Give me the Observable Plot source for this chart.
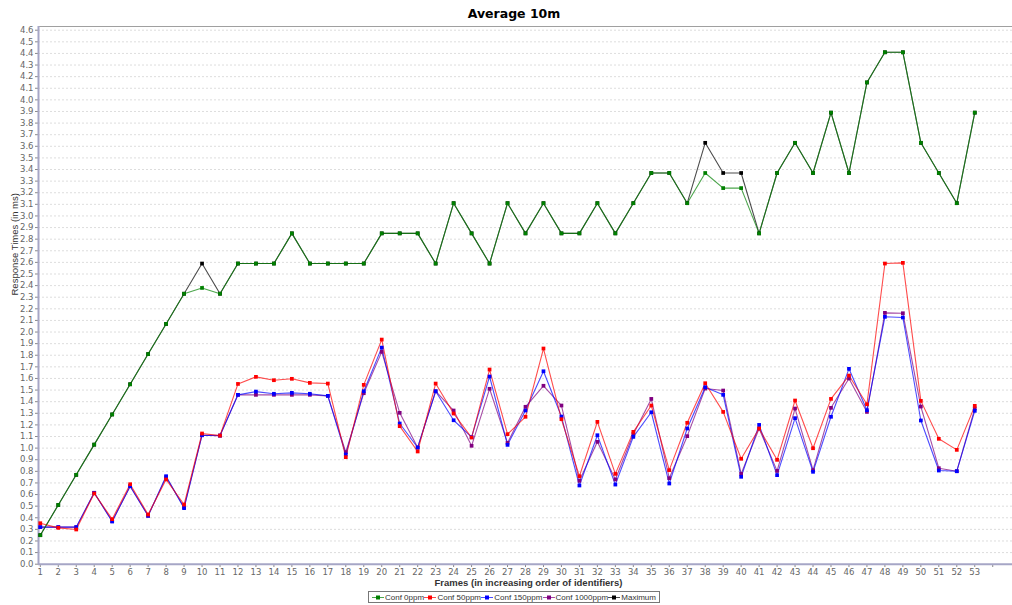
<!DOCTYPE html>
<html>
<head>
<meta charset="utf-8">
<script src="https://cdn.jsdelivr.net/npm/d3@7"></script>
<script src="https://cdn.jsdelivr.net/npm/@observablehq/plot@0.6"></script>
<style>
  html, body { margin: 0; padding: 0; background: #fff; }
  body { width: 1012px; height: 605px; position: relative; overflow: hidden; font-family: "DejaVu Sans", sans-serif; }
  #title { position: absolute; left: 0; top: 6px; width: 1028px; text-align: center; font-weight: bold; font-size: 12.5px; color: #000; }
  #chart { position: absolute; left: 0; top: 24px; }
  #legend { position: absolute; left: 368px; top: 591px; width: 292px; box-sizing: border-box; border: 1px solid #777; display: flex; align-items: center; justify-content: space-between; padding: 0 3px; height: 12px; font-family: "Liberation Sans", sans-serif; font-size: 8px; color: #333; }
  #legend .item { display: flex; align-items: center; gap: 1px; white-space: nowrap; }
</style>
</head>
<body>
<div id="title">Average 10m</div>
<div id="chart"></div>
<div id="legend"></div>
<script>
const frames = [1,2,3,4,5,6,7,8,9,10,11,12,13,14,15,16,17,18,19,20,21,22,23,24,25,26,27,28,29,30,31,32,33,34,35,36,37,38,39,40,41,42,43,44,45,46,47,48,49,50,51,52,53];
const xTicks = [1,2,3,4,5,6,7,8,9,10,11,12,13,14,15,16,17,18,19,20,21,22,23,24,25,26,27,28,29,30,31,32,33,34,35,36,37,38,39,40,41,42,43,44,45,46,47,48,49,50,51,52,53,54];
const yTicks = [0,0.1,0.2,0.3,0.4,0.5,0.6,0.7,0.8,0.9,1.0,1.1,1.2,1.3,1.4,1.5,1.6,1.7,1.8,1.9,2.0,2.1,2.2,2.3,2.4,2.5,2.6,2.7,2.8,2.9,3.0,3.1,3.2,3.3,3.4,3.5,3.6,3.7,3.8,3.9,4.0,4.1,4.2,4.3,4.4,4.5,4.6];

const seriesNames = ["Conf 0ppm", "Conf 50ppm", "Conf 150ppm", "Conf 1000ppm", "Maximum"];
const seriesColors = ["#008000", "#ff0000", "#0000ff", "#800080", "#000000"];

const conf0 = [0.25,0.51,0.77,1.03,1.29,1.55,1.81,2.07,2.33,2.38,2.33,2.59,2.59,2.59,2.85,2.59,2.59,2.59,2.59,2.85,2.85,2.85,2.59,3.11,2.85,2.59,3.11,2.85,3.11,2.85,2.85,3.11,2.85,3.11,3.37,3.37,3.11,3.37,3.24,3.24,2.85,3.37,3.63,3.37,3.89,3.37,4.15,4.41,4.41,3.63,3.37,3.11,3.89];
const conf50 = [0.353,0.313,0.299,0.61,0.388,0.689,0.428,0.73,0.514,1.126,1.108,1.553,1.614,1.585,1.597,1.562,1.556,0.922,1.545,1.935,1.189,0.971,1.556,1.298,1.091,1.677,1.12,1.27,1.858,1.249,0.758,1.226,0.778,1.14,1.367,0.81,1.218,1.559,1.312,0.908,1.169,0.899,1.41,0.999,1.424,1.625,1.378,2.59,2.596,1.407,1.08,0.985,1.364];
const conf150 = [0.319,0.319,0.319,0.615,0.368,0.672,0.417,0.758,0.483,1.111,1.108,1.459,1.487,1.468,1.476,1.468,1.45,0.945,1.49,1.866,1.212,1.005,1.49,1.24,1.094,1.617,1.028,1.324,1.662,1.272,0.678,1.111,0.686,1.097,1.309,0.695,1.169,1.525,1.459,0.753,1.2,0.767,1.258,0.796,1.27,1.683,1.327,2.131,2.125,1.238,0.807,0.801,1.321];
const conf1000 = [0.319,0.319,0.319,0.615,0.37,0.672,0.417,0.75,0.49,1.111,1.108,1.459,1.459,1.459,1.459,1.459,1.45,0.965,1.473,1.829,1.304,1.005,1.49,1.324,1.02,1.511,1.045,1.356,1.537,1.367,0.718,1.054,0.73,1.12,1.424,0.741,1.103,1.513,1.496,0.778,1.169,0.804,1.341,0.81,1.347,1.6,1.312,2.165,2.162,1.358,0.827,0.801,1.341];
const maximum = [0.25,0.51,0.77,1.03,1.29,1.55,1.81,2.07,2.33,2.59,2.33,2.59,2.59,2.59,2.85,2.59,2.59,2.59,2.59,2.85,2.85,2.85,2.59,3.11,2.85,2.59,3.11,2.85,3.11,2.85,2.85,3.11,2.85,3.11,3.37,3.37,3.11,3.63,3.37,3.37,2.85,3.37,3.63,3.37,3.89,3.37,4.15,4.41,4.41,3.63,3.37,3.11,3.89];

const seriesValues = [conf0, conf50, conf150, conf1000, maximum];
// draw order: Maximum at the bottom, Conf 0ppm on top
const drawOrder = [4, 3, 2, 1, 0];
const rows = [];
for (const si of drawOrder) {
  seriesValues[si].forEach((v, i) => rows.push({frame: frames[i], value: v, series: seriesNames[si]}));
}

const W = 1012, H = 566;
const plot = Plot.plot({
  width: W,
  height: H,
  marginLeft: 38,
  marginRight: 0,
  marginTop: 2,
  marginBottom: 26,
  style: {fontFamily: "DejaVu Sans, sans-serif", fontSize: "8.5px", color: "#555", background: "#fff"},
  x: {domain: [0.9, 55.1], range: [38, 1012]},
  y: {domain: [0, 4.632], range: [539.7, 2]},
  color: {domain: seriesNames, range: seriesColors},
  marks: [
    Plot.gridY(yTicks.slice(1), {stroke: "#d4d4d4", strokeOpacity: 1, strokeDasharray: "2,2", strokeWidth: 0.8}),
    Plot.ruleY([4.632], {stroke: "#a0a0a0", strokeWidth: 1.2}),
    Plot.axisY(yTicks, {tickFormat: d => d.toFixed(1), tickSize: 3, tickPadding: 2, fontSize: 8.5, fill: "#666", stroke: "#888", label: null}),
    Plot.axisX(xTicks, {tickFormat: d => d <= 53 ? String(d) : "", tickSize: 3, tickPadding: 1, fontSize: 8.5, fill: "#666", stroke: "#888", label: null}),
    Plot.text(["Frames (in increasing order of identifiers)"], {frameAnchor: "bottom", dx: 3, dy: 21, fontSize: 9.5, fill: "#333", fontFamily: "Liberation Sans, sans-serif", fontWeight: "bold"}),
    Plot.text(["Response Times (in ms)"], {frameAnchor: "left", dx: -24, rotate: -90, fontSize: 9.5, fill: "#333", fontFamily: "Liberation Sans, sans-serif"}),
    Plot.ruleX([0.9], {stroke: "#a6a6c6", strokeWidth: 2}),
    Plot.ruleY([0], {stroke: "#a6a6c6", strokeWidth: 2}),
    Plot.line(rows, {x: "frame", y: "value", z: "series", stroke: "series", strokeWidth: 1.1, strokeOpacity: 0.7}),
    Plot.dot(rows, {x: "frame", y: "value", fill: "series", symbol: "square", r: 2.1, stroke: "none"})
  ]
});
document.getElementById("chart").appendChild(plot);

// legend
const lg = document.getElementById("legend");
seriesNames.forEach((name, i) => {
  const item = document.createElement("span");
  item.className = "item";
  item.innerHTML = `<svg width="12" height="7"><line x1="0" y1="3.5" x2="12" y2="3.5" stroke="${seriesColors[i]}" stroke-width="1" stroke-opacity="0.7"/><rect x="4" y="1.5" width="4" height="4" fill="${seriesColors[i]}"/></svg><span>${name}</span>`;
  lg.appendChild(item);
});
</script>
</body>
</html>
